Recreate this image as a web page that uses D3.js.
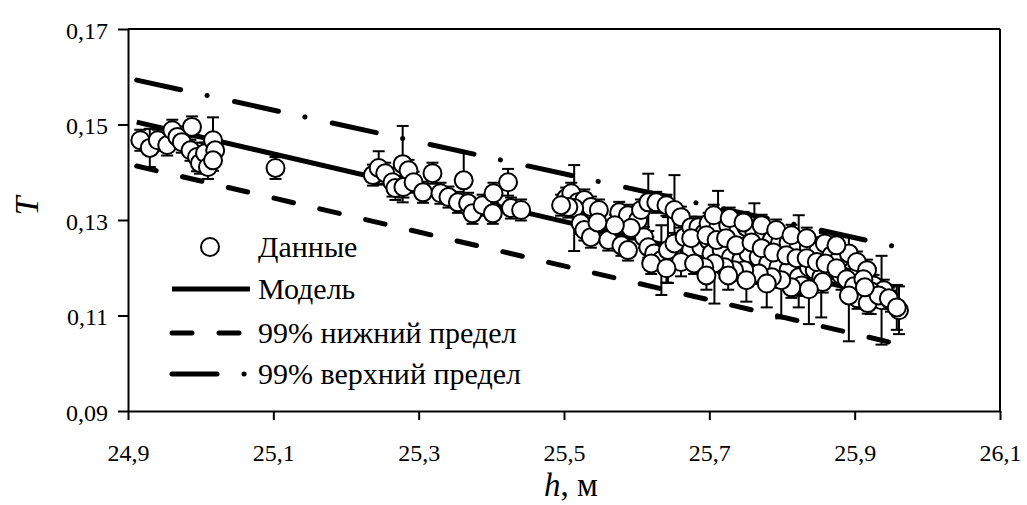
<!DOCTYPE html>
<html lang="ru">
<head>
    <meta charset="UTF-8">
    <title>T(h)</title>
    <script src="https://cdn.jsdelivr.net/npm/d3@7"></script>
    <style>
        body { margin: 0; background: #fff; }
        svg text { font-family: "Liberation Serif", "DejaVu Serif", "Times New Roman", serif; fill: #000; }
        .tick text { font-size: 24px; }
        .legend text { font-size: 30px; }
    </style>
</head>
<body>
<script>
    // axis ticks
    var xTicks = [24.9, 25.1, 25.3, 25.5, 25.7, 25.9, 26.1];
    var yTicks = [0.09, 0.11, 0.13, 0.15, 0.17];

    // measured points: h (m), T, error bar half-size
    var hValues = [
        24.917, 24.930, 24.941, 24.954, 24.961, 24.968, 24.974, 24.988, 24.986, 24.995, 24.999, 25.006, 25.010, 25.017, 25.020, 25.017,
        25.103,
        25.237, 25.245, 25.254, 25.264, 25.278, 25.286, 25.268, 25.279, 25.293, 25.306, 25.319, 25.330, 25.341, 25.354, 25.362, 25.368,
        25.374, 25.388, 25.402, 25.403, 25.423, 25.427, 25.441,
        25.503, 25.510, 25.519, 25.528, 25.537, 25.548, 25.514, 25.506, 25.523, 25.528, 25.537, 25.561, 25.579, 25.588, 25.576, 25.588,
        25.602, 25.606, 25.616, 25.627, 25.641, 25.652, 25.661, 25.610, 25.616, 25.624, 25.634, 25.643, 25.652, 25.666, 25.675, 25.685,
        25.693, 25.620, 25.675, 25.689, 25.699, 25.592, 25.570, 25.546, 25.496, 25.661, 25.641,
        25.699, 25.712, 25.726, 25.740, 25.751, 25.762, 25.774, 25.786, 25.797, 25.809, 25.823, 25.837, 25.850, 25.859, 25.868,
        25.703, 25.717, 25.730, 25.744, 25.754, 25.768, 25.781, 25.795, 25.809, 25.823, 25.827, 25.813, 25.837, 25.845, 25.854,
        25.799, 25.786, 25.768, 25.748, 25.734, 25.721, 25.707, 25.693, 25.679, 25.886, 25.896, 25.906, 25.878, 25.892,
        25.675, 25.696, 25.710, 25.723, 25.737, 25.758, 25.772, 25.788, 25.806, 25.820, 25.834, 25.848, 25.866, 25.882, 25.903,
        25.917, 25.926, 25.940, 25.706, 25.728, 25.747, 25.772, 25.792, 25.813, 25.834, 25.875, 25.779, 25.726, 25.751, 25.696,
        25.860, 25.875, 25.889, 25.899, 25.912, 25.922, 25.937, 25.950, 25.961, 25.904, 25.918, 25.892, 25.856, 25.837, 25.933,
        25.947, 25.958, 25.914
    ];
    var tValues = [
        0.1467, 0.1451, 0.1467, 0.1457, 0.1488, 0.1474, 0.1463, 0.1495, 0.1446, 0.1432, 0.1419, 0.1440, 0.1411, 0.1467, 0.1446, 0.1425,
        0.1409,
        0.1394, 0.1409, 0.1398, 0.1379, 0.1417, 0.1404, 0.1367, 0.1369, 0.1379, 0.1358, 0.1398, 0.1356, 0.1348, 0.1337, 0.1383, 0.1335,
        0.1314, 0.1331, 0.1314, 0.1356, 0.1379, 0.1325, 0.1321,
        0.1346, 0.1356, 0.1337, 0.1342, 0.1327, 0.1321, 0.1325, 0.1327, 0.1293, 0.1279, 0.1264, 0.1258, 0.1247, 0.1237, 0.1316, 0.1310,
        0.1300, 0.1321, 0.1337, 0.1337, 0.1331, 0.1321, 0.1306, 0.1264, 0.1243, 0.1230, 0.1216, 0.1237, 0.1251, 0.1264, 0.1285, 0.1285,
        0.1272, 0.1209, 0.1237, 0.1243, 0.1258, 0.1283, 0.1289, 0.1295, 0.1331, 0.1212, 0.1199,
        0.1293, 0.1283, 0.1289, 0.1279, 0.1285, 0.1274, 0.1264, 0.1258, 0.1251, 0.1253, 0.1247, 0.1243, 0.1237, 0.1251, 0.1226,
        0.1230, 0.1237, 0.1222, 0.1216, 0.1230, 0.1222, 0.1209, 0.1201, 0.1195, 0.1180, 0.1163, 0.1159, 0.1201, 0.1195, 0.1180,
        0.1174, 0.1180, 0.1188, 0.1195, 0.1195, 0.1201, 0.1209, 0.1201, 0.1209, 0.1195, 0.1180, 0.1195, 0.1216, 0.1230,
        0.1262, 0.1268, 0.1258, 0.1262, 0.1247, 0.1253, 0.1241, 0.1232, 0.1226, 0.1220, 0.1220, 0.1212, 0.1199, 0.1184, 0.1212,
        0.1195, 0.1163, 0.1153, 0.1310, 0.1304, 0.1295, 0.1289, 0.1279, 0.1268, 0.1262, 0.1247, 0.1167, 0.1184, 0.1174, 0.1184,
        0.1209, 0.1199, 0.1176, 0.1161, 0.1176, 0.1151, 0.1132, 0.1130, 0.1111, 0.1136, 0.1126, 0.1142, 0.1170, 0.1155, 0.1142,
        0.1136, 0.1117, 0.1159
    ];
    var errValues = [
        0.0022, 0.0040, 0.0022, 0.0022, 0.0022, 0.0022, 0.0022, 0.0022, 0.0022, 0.0030, 0.0022, 0.0022, 0.0025, 0.0048, 0.0022, 0.0022,
        0.0023,
        0.0022, 0.0035, 0.0022, 0.0030, 0.0080, 0.0022, 0.0025, 0.0022, 0.0022, 0.0022, 0.0022, 0.0022, 0.0022, 0.0022, 0.0059, 0.0022,
        0.0022, 0.0022, 0.0022, 0.0022, 0.0028, 0.0022, 0.0022,
        0.0022, 0.0022, 0.0022, 0.0022, 0.0022, 0.0022, 0.0090, 0.0022, 0.0022, 0.0022, 0.0022, 0.0022, 0.0022, 0.0022, 0.0022, 0.0022,
        0.0022, 0.0022, 0.0060, 0.0022, 0.0022, 0.0073, 0.0022, 0.0022, 0.0022, 0.0022, 0.0073, 0.0069, 0.0022, 0.0022, 0.0022, 0.0022,
        0.0022, 0.0022, 0.0022, 0.0022, 0.0022, 0.0022, 0.0022, 0.0022, 0.0022, 0.0030, 0.0030,
        0.0022, 0.0078, 0.0022, 0.0022, 0.0022, 0.0061, 0.0022, 0.0022, 0.0022, 0.0022, 0.0063, 0.0022, 0.0022, 0.0022, 0.0022,
        0.0022, 0.0022, 0.0022, 0.0022, 0.0022, 0.0022, 0.0022, 0.0022, 0.0022, 0.0063, 0.0022, 0.0022, 0.0022, 0.0022, 0.0084,
        0.0080, 0.0022, 0.0022, 0.0022, 0.0022, 0.0022, 0.0084, 0.0022, 0.0022, 0.0022, 0.0022, 0.0022, 0.0022, 0.0034,
        0.0022, 0.0022, 0.0022, 0.0022, 0.0022, 0.0022, 0.0022, 0.0022, 0.0022, 0.0022, 0.0022, 0.0022, 0.0022, 0.0030, 0.0022,
        0.0022, 0.0022, 0.0022, 0.0022, 0.0022, 0.0022, 0.0022, 0.0022, 0.0022, 0.0022, 0.0022, 0.0050, 0.0030, 0.0045, 0.0030,
        0.0022, 0.0022, 0.0022, 0.0022, 0.0022, 0.0048, 0.0093, 0.0022, 0.0050, 0.0022, 0.0022, 0.0096, 0.0022, 0.0073, 0.0022,
        0.0022, 0.0047, 0.0022
    ];

    // model and 99% limits (straight lines, end points)
    var lineH = [24.912, 25.96];
    var modelT = [0.1505, 0.1134];
    var lowerT = [0.1413, 0.1040];
    var upperT = [0.1593, 0.1243];

    var legendNames = ["Данные", "Модель", "99% нижний предел", "99% верхний предел"];

    var width = 1027, height = 505;
    var svg = d3.select("body").append("svg")
        .attr("width", width)
        .attr("height", height);

    var x = d3.scaleLinear().domain([24.9, 26.1]).range([128, 1000]);
    var y = d3.scaleLinear().domain([0.09, 0.17]).range([411, 29]);

    var comma = function (d) { return d3.format(".2f")(d).replace(".", ","); };
    var commaX = function (d) { return d3.format(".1f")(d).replace(".", ","); };

    // frame: top and right lines
    svg.append("line").attr("x1", x(24.9)).attr("x2", x(26.1)).attr("y1", y(0.17)).attr("y2", y(0.17))
        .attr("stroke", "#000").attr("stroke-width", 2);
    svg.append("line").attr("x1", x(26.1)).attr("x2", x(26.1)).attr("y1", y(0.17)).attr("y2", y(0.09))
        .attr("stroke", "#000").attr("stroke-width", 2);

    var xAxis = svg.append("g")
        .attr("transform", "translate(0," + y(0.09) + ")")
        .call(d3.axisBottom(x).tickValues(xTicks).tickFormat(commaX).tickSize(9).tickSizeOuter(0));
    xAxis.selectAll("line, path").attr("stroke", "#000").attr("stroke-width", 2);
    xAxis.selectAll("text").attr("dy", "1.6em");

    var yAxis = svg.append("g")
        .attr("transform", "translate(" + x(24.9) + ",0)")
        .call(d3.axisLeft(y).tickValues(yTicks).tickFormat(comma).tickSize(10).tickSizeOuter(0));
    yAxis.selectAll("line, path").attr("stroke", "#000").attr("stroke-width", 2);
    yAxis.selectAll("text").attr("x", -20).attr("dy", "0.38em");

    // axis titles
    svg.append("text")
        .attr("transform", "translate(38,206) rotate(-90)")
        .attr("text-anchor", "middle")
        .style("font-size", "34px")
        .style("font-style", "italic")
        .text("T");
    var xt = svg.append("text")
        .attr("x", 571).attr("y", 496)
        .attr("text-anchor", "middle")
        .style("font-size", "33px");
    xt.append("tspan").style("font-style", "italic").text("h");
    xt.append("tspan").text(", м");

    // lines
    var lineGen = d3.line().x(function (d) { return x(d[0]); }).y(function (d) { return y(d[1]); });
    function pairs(ts) { return lineH.map(function (h, i) { return [h, ts[i]]; }); }

    var styles = [
        { data: modelT, dash: null },
        { data: lowerT, dash: "20,27" },
        { data: upperT, dash: "45,27,0.1,28" }
    ];
    svg.append("g").selectAll("path")
        .data(styles)
        .enter()
        .append("path")
        .attr("d", function (d) { return lineGen(pairs(d.data)); })
        .attr("fill", "none")
        .attr("stroke", "#000")
        .attr("stroke-width", 5)
        .attr("stroke-linecap", function (d) { return d.dash ? "round" : "butt"; })
        .attr("stroke-dasharray", function (d) { return d.dash; });

    var points = hValues.map(function (h, i) { return { h: h, t: tValues[i], e: errValues[i] }; });

    // error bars
    var bars = svg.append("g").selectAll("g")
        .data(points)
        .enter()
        .append("g")
        .attr("stroke", "#000")
        .attr("stroke-width", 2);
    bars.append("line")
        .attr("x1", function (d) { return x(d.h); })
        .attr("x2", function (d) { return x(d.h); })
        .attr("y1", function (d) { return y(d.t - d.e); })
        .attr("y2", function (d) { return y(d.t + d.e); });
    bars.append("line")
        .attr("x1", function (d) { return x(d.h) - 6; })
        .attr("x2", function (d) { return x(d.h) + 6; })
        .attr("y1", function (d) { return y(d.t + d.e); })
        .attr("y2", function (d) { return y(d.t + d.e); });
    bars.append("line")
        .attr("x1", function (d) { return x(d.h) - 6; })
        .attr("x2", function (d) { return x(d.h) + 6; })
        .attr("y1", function (d) { return y(d.t - d.e); })
        .attr("y2", function (d) { return y(d.t - d.e); });

    // markers
    svg.append("g").selectAll("circle")
        .data(points)
        .enter()
        .append("circle")
        .attr("cx", function (d) { return x(d.h); })
        .attr("cy", function (d) { return y(d.t); })
        .attr("r", 9)
        .attr("fill", "#fff")
        .attr("stroke", "#000")
        .attr("stroke-width", 2);

    // legend
    var legend = svg.append("g").attr("class", "legend");
    var rowY = [247, 289, 333, 374];
    legend.append("circle").attr("cx", 210).attr("cy", rowY[0]).attr("r", 9)
        .attr("fill", "#fff").attr("stroke", "#000").attr("stroke-width", 2);
    styles.forEach(function (s, i) {
        legend.append("line")
            .attr("x1", 172).attr("x2", 250)
            .attr("y1", rowY[i + 1]).attr("y2", rowY[i + 1])
            .attr("stroke", "#000").attr("stroke-width", 5)
            .attr("stroke-linecap", s.dash ? "round" : "butt")
            .attr("stroke-dasharray", s.dash);
    });
    legend.selectAll("text")
        .data(legendNames)
        .enter()
        .append("text")
        .attr("x", 258)
        .attr("y", function (d, i) { return rowY[i] + 10; })
        .text(function (d) { return d; });
</script>
</body>
</html>
